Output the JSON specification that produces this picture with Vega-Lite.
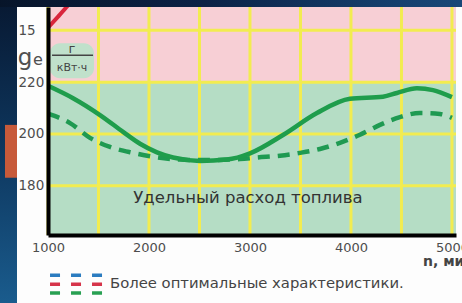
{
  "$schema": "https://vega.github.io/schema/vega-lite/v6.json",
  "width": 408,
  "height": 228,
  "autosize": "none",
  "padding": {"left": 48, "top": 7, "right": 6, "bottom": 68},
  "background": "#0b1f3c",
  "config": {"view": {"stroke": null}, "font": "DejaVu Sans"},
  "resolve": {"axis": {"x": "independent", "y": "independent"}},
  "layer": [
    {
      "data": {"values": [{}]},
      "mark": {"type": "rect", "color": {"gradient": "linear", "x1": 0, "y1": 0, "x2": 1, "y2": 0, "stops": [{"offset": 0, "color": "#071428"}, {"offset": 0.4, "color": "#0b2246"}, {"offset": 0.75, "color": "#15406e"}, {"offset": 1, "color": "#1b4f82"}]}},
      "encoding": {
        "x": {"datum": 400, "type": "quantitative", "axis": null},
        "x2": {"datum": 5800},
        "y": {"datum": 248.9, "type": "quantitative", "axis": null},
        "y2": {"datum": 262}
      }
    },
    {
      "data": {"values": [{}]},
      "mark": {"type": "rect", "color": {"gradient": "linear", "x1": 0, "y1": 0, "x2": 0, "y2": 1, "stops": [{"offset": 0, "color": "#081a34"}, {"offset": 0.45, "color": "#0e3860"}, {"offset": 1, "color": "#1d6599"}]}},
      "encoding": {
        "x": {"datum": 400, "type": "quantitative", "axis": null},
        "x2": {"datum": 693},
        "y": {"datum": 249, "type": "quantitative", "axis": null},
        "y2": {"datum": 120}
      }
    },
    {
      "data": {"values": [{}]},
      "mark": {"type": "rect", "color": "#fdfdfd"},
      "encoding": {
        "x": {"datum": 693, "type": "quantitative", "axis": null},
        "x2": {"datum": 6000},
        "y": {"datum": 249, "type": "quantitative", "axis": null},
        "y2": {"datum": 120}
      }
    },
    {
      "data": {"values": [{}]},
      "mark": {"type": "rect", "color": "#c75a3a"},
      "encoding": {
        "x": {"datum": 574, "type": "quantitative", "axis": null},
        "x2": {"datum": 693},
        "y": {"datum": 203.5, "type": "quantitative", "axis": null},
        "y2": {"datum": 183.1}
      }
    },
    {
      "data": {"values": [{}]},
      "mark": {"type": "rect", "color": "#f7cfd5"},
      "encoding": {
        "x": {"datum": 1000, "type": "quantitative", "axis": null},
        "x2": {"datum": 5040},
        "y": {"datum": 249, "type": "quantitative", "axis": null},
        "y2": {"datum": 220}
      }
    },
    {
      "data": {"values": [{}]},
      "mark": {"type": "rect", "color": "#b5ddc5"},
      "encoding": {
        "x": {"datum": 1000, "type": "quantitative", "axis": null},
        "x2": {"datum": 5040},
        "y": {"datum": 220, "type": "quantitative", "axis": null},
        "y2": {"datum": 161}
      }
    },
    {
      "data": {"values": [{}]},
      "mark": {"type": "rect", "color": "#c0e1cb", "cornerRadius": 10},
      "encoding": {
        "x": {"datum": 1020, "type": "quantitative", "axis": null},
        "x2": {"datum": 1455},
        "y": {"datum": 235, "type": "quantitative", "axis": null},
        "y2": {"datum": 221.5}
      }
    },
    {
      "data": {"values": [{"v": 1000}, {"v": 1500}, {"v": 2000}, {"v": 2500}, {"v": 3000}, {"v": 3500}, {"v": 4000}, {"v": 4500}, {"v": 5000}]},
      "mark": {"type": "rule", "color": "#f2ec50", "strokeWidth": 3},
      "encoding": {"x": {"field": "v", "type": "quantitative", "axis": null}}
    },
    {
      "data": {"values": [{"v": 180}, {"v": 200}, {"v": 220}, {"v": 240}]},
      "mark": {"type": "rule", "color": "#f2ec50", "strokeWidth": 3},
      "encoding": {"y": {"field": "v", "type": "quantitative", "axis": null}}
    },
    {
      "data": {"values": [{"rpm": 1000, "g": 241}, {"rpm": 1100, "g": 245.3}, {"rpm": 1200, "g": 249.7}, {"rpm": 1250, "g": 252}]},
      "mark": {"type": "line", "color": "#d9263d", "strokeWidth": 4, "clip": true, "interpolate": "monotone"},
      "encoding": {
        "x": {"field": "rpm", "type": "quantitative", "axis": null},
        "y": {"field": "g", "type": "quantitative", "axis": null}
      }
    },
    {
      "data": {"values": [
        {"rpm": 1000, "g": 207.8}, {"rpm": 1218, "g": 204.2}, {"rpm": 1416, "g": 198.5}, {"rpm": 1614, "g": 195},
        {"rpm": 1842, "g": 192.7}, {"rpm": 2040, "g": 191.2}, {"rpm": 2307, "g": 190.1}, {"rpm": 2574, "g": 189.9},
        {"rpm": 2901, "g": 190.3}, {"rpm": 3069, "g": 190.9}, {"rpm": 3297, "g": 191.6}, {"rpm": 3495, "g": 192.7},
        {"rpm": 3693, "g": 194.2}, {"rpm": 3891, "g": 196.6}, {"rpm": 4089, "g": 199.7}, {"rpm": 4287, "g": 203.5},
        {"rpm": 4485, "g": 206.5}, {"rpm": 4683, "g": 208.1}, {"rpm": 4881, "g": 207.7}, {"rpm": 5000, "g": 206.2}
      ]},
      "mark": {"type": "line", "color": "#1f9a52", "strokeWidth": 4.5, "strokeDash": [12, 8], "interpolate": "monotone"},
      "encoding": {
        "x": {"field": "rpm", "type": "quantitative", "axis": null},
        "y": {"field": "g", "type": "quantitative", "axis": null}
      }
    },
    {
      "data": {"values": [
        {"rpm": 1000, "g": 218.6}, {"rpm": 1248, "g": 213.8}, {"rpm": 1515, "g": 207.3}, {"rpm": 1743, "g": 200.8},
        {"rpm": 1911, "g": 196.2}, {"rpm": 2079, "g": 192.9}, {"rpm": 2238, "g": 190.9}, {"rpm": 2505, "g": 189.6},
        {"rpm": 2772, "g": 190.1}, {"rpm": 3000, "g": 192.5}, {"rpm": 3327, "g": 199.6}, {"rpm": 3663, "g": 208.1},
        {"rpm": 3990, "g": 213.6}, {"rpm": 4317, "g": 214.4}, {"rpm": 4455, "g": 215.8}, {"rpm": 4653, "g": 217.6},
        {"rpm": 4812, "g": 216.9}, {"rpm": 5000, "g": 214.2}
      ]},
      "mark": {"type": "line", "color": "#1f9d4c", "strokeWidth": 4.5, "interpolate": "monotone"},
      "encoding": {
        "x": {"field": "rpm", "type": "quantitative",
          "scale": {"domain": [1000, 5040], "nice": false, "zero": false},
          "axis": {"values": [1000, 2000, 3000, 4000, 5000], "format": "d", "title": null, "grid": false, "ticks": false,
            "domainColor": "#000000", "domainWidth": 4, "labelColor": "#4d4d4d", "labelFontSize": 13,
            "labelPadding": 6, "labelFlush": false, "labelOverlap": false, "zindex": 1}},
        "y": {"field": "g", "type": "quantitative",
          "scale": {"domain": [161, 249], "nice": false, "zero": false},
          "axis": {"values": [180, 200, 220, 240], "labelExpr": "datum.value == 240 ? '15' : datum.label", "title": null,
            "grid": false, "ticks": false, "domainColor": "#000000", "domainWidth": 4, "labelAlign": "left",
            "labelPadding": 30, "labelFontSize": 13.5, "labelColor": "#4d4d4d", "labelOverlap": false, "zindex": 1}}
      }
    },
    {
      "data": {"values": [{}]},
      "mark": {"type": "text", "text": "Удельный расход топлива", "fontSize": 16.5, "color": "#333333", "align": "center", "baseline": "middle"},
      "encoding": {
        "x": {"datum": 2980, "type": "quantitative", "axis": null},
        "y": {"datum": 175.3, "type": "quantitative", "axis": null}
      }
    },
    {
      "data": {"values": [{}]},
      "mark": {"type": "text", "text": "g", "fontSize": 23, "color": "#505050", "align": "center", "baseline": "alphabetic"},
      "encoding": {
        "x": {"datum": 772, "type": "quantitative", "axis": null},
        "y": {"datum": 226.6, "type": "quantitative", "axis": null}
      }
    },
    {
      "data": {"values": [{}]},
      "mark": {"type": "text", "text": "e", "fontSize": 16, "color": "#505050", "align": "center", "baseline": "alphabetic"},
      "encoding": {
        "x": {"datum": 901, "type": "quantitative", "axis": null},
        "y": {"datum": 226.6, "type": "quantitative", "axis": null}
      }
    },
    {
      "data": {"values": [{}]},
      "mark": {"type": "text", "text": "г", "fontSize": 13, "color": "#444444", "align": "center", "baseline": "middle"},
      "encoding": {
        "x": {"datum": 1238, "type": "quantitative", "axis": null},
        "y": {"datum": 232.6, "type": "quantitative", "axis": null}
      }
    },
    {
      "data": {"values": [{}]},
      "mark": {"type": "rule", "color": "#444444", "strokeWidth": 1.5},
      "encoding": {
        "x": {"datum": 1040, "type": "quantitative", "axis": null},
        "x2": {"datum": 1446},
        "y": {"datum": 230.4, "type": "quantitative", "axis": null}
      }
    },
    {
      "data": {"values": [{}]},
      "mark": {"type": "text", "text": "кВт·ч", "fontSize": 11, "color": "#444444", "align": "center", "baseline": "middle"},
      "encoding": {
        "x": {"datum": 1238, "type": "quantitative", "axis": null},
        "y": {"datum": 225.4, "type": "quantitative", "axis": null}
      }
    },
    {
      "data": {"values": [{}]},
      "mark": {"type": "text", "text": "n, мин⁻¹", "fontSize": 14, "fontWeight": "bold", "color": "#444444", "align": "left", "baseline": "middle"},
      "encoding": {
        "x": {"datum": 4713, "type": "quantitative", "axis": null},
        "y": {"datum": 150.5, "type": "quantitative", "axis": null}
      }
    },
    {
      "data": {"values": [{}]},
      "mark": {"type": "rule", "color": "#2b7cc0", "strokeWidth": 3.5, "strokeDash": [10, 11]},
      "encoding": {
        "x": {"datum": 1020, "type": "quantitative", "axis": null},
        "x2": {"datum": 1535},
        "y": {"datum": 145.5, "type": "quantitative", "axis": null}
      }
    },
    {
      "data": {"values": [{}]},
      "mark": {"type": "rule", "color": "#d6344a", "strokeWidth": 3.5, "strokeDash": [10, 11]},
      "encoding": {
        "x": {"datum": 1020, "type": "quantitative", "axis": null},
        "x2": {"datum": 1535},
        "y": {"datum": 142, "type": "quantitative", "axis": null}
      }
    },
    {
      "data": {"values": [{}]},
      "mark": {"type": "rule", "color": "#28a052", "strokeWidth": 3.5, "strokeDash": [10, 11]},
      "encoding": {
        "x": {"datum": 1020, "type": "quantitative", "axis": null},
        "x2": {"datum": 1535},
        "y": {"datum": 138.6, "type": "quantitative", "axis": null}
      }
    },
    {
      "data": {"values": [{}]},
      "mark": {"type": "text", "text": "Более оптимальные характеристики.", "fontSize": 14.8, "color": "#444444", "align": "left", "baseline": "middle"},
      "encoding": {
        "x": {"datum": 1614, "type": "quantitative", "axis": null},
        "y": {"datum": 142, "type": "quantitative", "axis": null}
      }
    }
  ]
}
